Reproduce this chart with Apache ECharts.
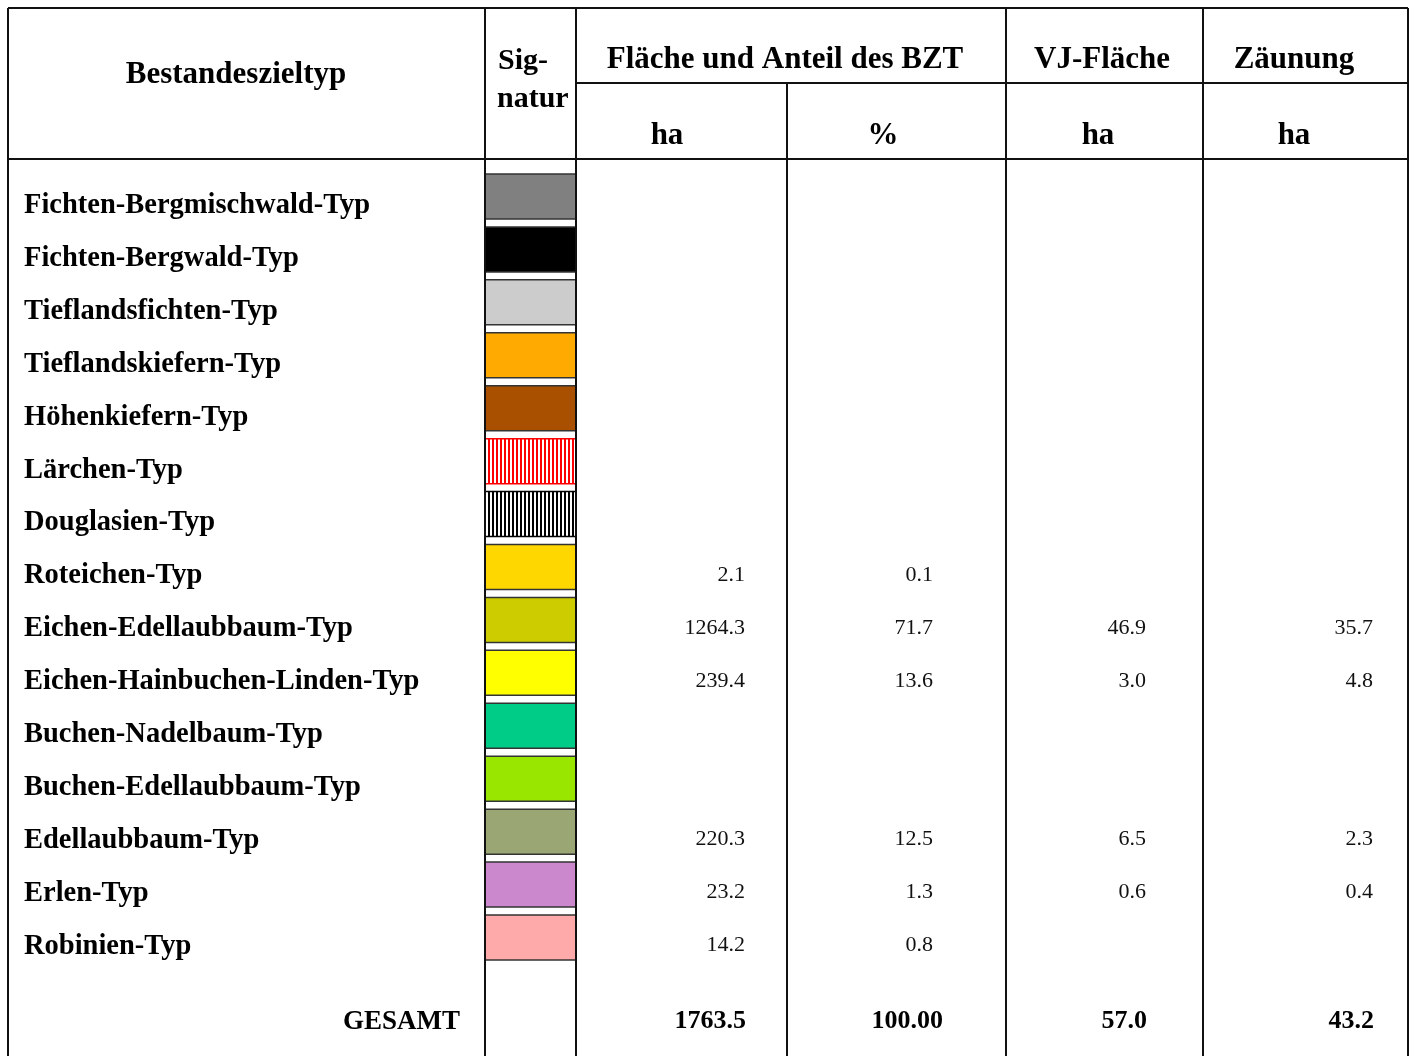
<!DOCTYPE html>
<html>
<head>
<meta charset="utf-8">
<script src="https://cdn.jsdelivr.net/npm/echarts@6/dist/echarts.min.js"></script>
<style>
html,body{margin:0;padding:0;background:#fff;}
#chart{width:1411px;height:1056px;}
</style>
</head>
<body>
<div id="chart"></div>
<script>
// ---------- DATA ----------
const categories = [
  'Fichten-Bergmischwald-Typ','Fichten-Bergwald-Typ','Tieflandsfichten-Typ','Tieflandskiefern-Typ',
  'Höhenkiefern-Typ','Lärchen-Typ','Douglasien-Typ','Roteichen-Typ','Eichen-Edellaubbaum-Typ',
  'Eichen-Hainbuchen-Linden-Typ','Buchen-Nadelbaum-Typ','Buchen-Edellaubbaum-Typ','Edellaubbaum-Typ',
  'Erlen-Typ','Robinien-Typ'
];
const areaHa   = [null,null,null,null,null,null,null,2.1,1264.3,239.4,null,null,220.3,23.2,14.2];
const sharePct = [null,null,null,null,null,null,null,0.1,71.7,13.6,null,null,12.5,1.3,0.8];
const vjHa     = [null,null,null,null,null,null,null,null,46.9,3.0,null,null,6.5,0.6,null];
const fenceHa  = [null,null,null,null,null,null,null,null,35.7,4.8,null,null,2.3,0.4,null];
const totalLabel = 'GESAMT';
const totalValues = [1763.5, 100.00, 57.0, 43.2];
const totalDecimals = [1, 2, 1, 1];
const headerLabels = ['Bestandeszieltyp','Sig-','natur','Fläche und Anteil des BZT','VJ-Fläche','Zäunung'];
const subHeaderLabels = ['ha','%','ha','ha'];
const swatchFills = ['#808080','#000000','#cccccc','#ffaa00','#a85000','stripes:#ff0000','stripes:#000000',
  '#ffd700','#cccc00','#ffff00','#00cc88','#99e600','#9aa673','#cc88cc','#ffaaaa'];

// ---------- LAYOUT ----------
const FONT = '"Liberation Serif", "Times New Roman", serif';
const GL = 8;              // grid left (px)
const GW = 1400;           // grid width (px) -> x units
const SW_L = 477, SW_R = 568;           // swatch column in x units
const NUM_R = [737, 925, 1138, 1365];   // right edges of numbers (x units)
const TOT_R = [738, 935, 1139, 1366];
const PITCH = 52.93;

function stripePattern(color){
  const c = document.createElement('canvas');
  c.width = 4; c.height = 4;
  const g = c.getContext('2d');
  g.fillStyle = '#ffffff'; g.fillRect(0,0,4,4);
  g.fillStyle = color; g.fillRect(0,0,2,4);
  return {image: c, repeat: 'repeat'};
}
function fillFor(f){
  if (f.indexOf('stripes:') === 0) return stripePattern(f.slice(8));
  return f;
}
function strokeFor(f){
  if (f.indexOf('stripes:') === 0) return f.slice(8);
  return '#333333';
}

const bodyData = categories.map((c,i)=>[0, i, areaHa[i], sharePct[i], vjHa[i], fenceHa[i]]);
const valueCols = [areaHa, sharePct, vjHa, fenceHa];

const chart = echarts.init(document.getElementById('chart'), null, {renderer:'canvas'});

const bodyTop = 205.5 - PITCH/2;
const bodyBottom = 1056 - (bodyTop + PITCH*categories.length);

const lineStyle = {stroke:'#111', lineWidth:2};
function hLine(x1,x2,y){ return {type:'line', z:100, shape:{x1:x1,y1:y,x2:x2,y2:y}, style:lineStyle}; }
function vLine(x,y1,y2){ return {type:'line', z:100, shape:{x1:x,y1:y1,x2:x,y2:y2}, style:lineStyle}; }
function hText(t,x,y,align,size){
  return {type:'text', z:100, x:x, y:y, style:{text:t, align:align, verticalAlign:'middle',
    font:'bold '+size+'px '+FONT, fill:'#000'}};
}

const option = {
  backgroundColor:'#ffffff',
  animation:false,
  grid:[
    {left:GL, width:GW, top:bodyTop, bottom:bodyBottom},
    {left:GL, width:GW, top:988, bottom:0}
  ],
  xAxis:[
    {gridIndex:0, type:'value', min:0, max:GW, show:false},
    {gridIndex:1, type:'value', min:0, max:GW, show:false}
  ],
  yAxis:[
    {gridIndex:0, type:'category', data:categories, inverse:true,
     axisLine:{show:false}, axisTick:{show:false}, splitLine:{show:false},
     axisLabel:{inside:true, align:'left', margin:16, interval:0, color:'#000',
       fontFamily:FONT, fontWeight:'bold', fontSize:28.5}},
    {gridIndex:1, type:'category', data:[totalLabel], inverse:true,
     axisLine:{show:false}, axisTick:{show:false}, splitLine:{show:false},
     axisLabel:{inside:true, align:'right', margin:452, interval:0, color:'#000',
       fontFamily:FONT, fontWeight:'bold', fontSize:27}}
  ],
  series:[
    {
      type:'custom', xAxisIndex:0, yAxisIndex:0,
      data: bodyData,
      encode:{x:0, y:1},
      renderItem:function(params, api){
        const i = params.dataIndex;
        const yc = api.coord([0, i])[1];
        const bandH = api.size([0,1])[1];
        const xL = api.coord([SW_L, i])[0];
        const xR = api.coord([SW_R, i])[0];
        const swH = bandH * 0.85;
        const f = swatchFills[i];
        const children = [{
          type:'rect',
          shape:{x:xL, y:yc - 9 - swH/2, width:xR - xL, height:swH},
          style:{fill:fillFor(f), stroke:strokeFor(f), lineWidth:1.5}
        }];
        valueCols.forEach(function(col, k){
          const v = col[i];
          if (v === null || v === undefined) return;
          children.push({
            type:'text',
            x: api.coord([NUM_R[k], i])[0],
            y: yc - 1,
            style:{text:v.toFixed(1), align:'right', verticalAlign:'middle',
              font:'22px '+FONT, fill:'#111'}
          });
        });
        return {type:'group', children:children};
      }
    },
    {
      type:'custom', xAxisIndex:1, yAxisIndex:1,
      data:[[0,0]],
      encode:{x:0, y:1},
      renderItem:function(params, api){
        const yc = api.coord([0, 0])[1];
        const children = totalValues.map(function(v,k){
          return {
            type:'text',
            x: api.coord([TOT_R[k], 0])[0],
            y: yc - 1,
            style:{text:v.toFixed(totalDecimals[k]), align:'right', verticalAlign:'middle',
              font:'bold 26px '+FONT, fill:'#000'}
          };
        });
        return {type:'group', children:children};
      }
    }
  ],
  graphic:{elements:[
    hLine(8,1408,8),
    hLine(576,1408,83),
    hLine(8,1408,159),
    vLine(8,8,1056),
    vLine(1408,8,1056),
    vLine(485,8,1056),
    vLine(576,8,1056),
    vLine(787,83,1056),
    vLine(1006,8,1056),
    vLine(1203,8,1056),
    hText(headerLabels[0], 236, 75, 'center', 31),
    hText(headerLabels[1], 498, 61, 'left', 30),
    hText(headerLabels[2], 497, 99, 'left', 30),
    hText(headerLabels[3], 785, 60, 'center', 31),
    hText(headerLabels[4], 1102, 60, 'center', 31),
    hText(headerLabels[5], 1294, 60, 'center', 31),
    hText(subHeaderLabels[0], 667, 136, 'center', 31),
    hText(subHeaderLabels[1], 883, 136, 'center', 31),
    hText(subHeaderLabels[2], 1098, 136, 'center', 31),
    hText(subHeaderLabels[3], 1294, 136, 'center', 31)
  ]}
};
chart.setOption(option);
</script>
</body>
</html>
